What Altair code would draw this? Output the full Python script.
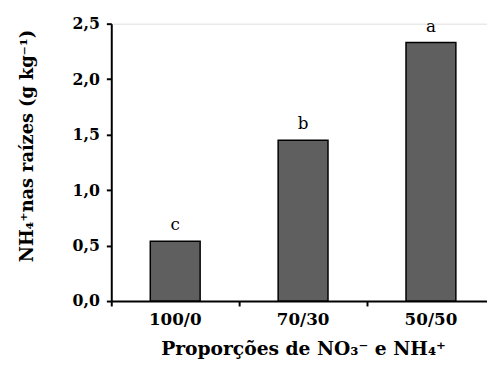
import altair as alt
import pandas as pd

categories = ["100/0", "70/30", "50/50"]
values = [0.54, 1.45, 2.33]
letters = ["c", "b", "a"]
y_ticks = [0.0, 0.5, 1.0, 1.5, 2.0, 2.5]

df = pd.DataFrame({"cat": categories, "val": values, "lab": letters})

FONT = "DejaVu Serif"

x_enc = alt.X(
    "cat:N",
    sort=categories,
    scale=alt.Scale(range=[0, 390], paddingInner=0, paddingOuter=0),
    axis=alt.Axis(
        title="Proporções de NO₃⁻ e NH₄⁺",
        bandPosition=0,
        labelAngle=0,
        labelFont=FONT,
        labelFontWeight="bold",
        labelFontSize=17,
        labelColor="black",
        labelPadding=6,
        tickSize=5,
        tickWidth=2,
        tickColor="black",
        domainColor="black",
        domainWidth=2,
        titleFont=FONT,
        titleFontWeight="bold",
        titleFontSize=19,
        titleColor="black",
        titleX=195,
        titleY=54,
        titleBaseline="alphabetic",
        titleAlign="center",
        grid=False,
    ),
)

y_enc = alt.Y(
    "val:Q",
    scale=alt.Scale(domain=[0, 2.5], nice=False, zero=True),
    axis=alt.Axis(
        title="NH₄⁺nas raízes (g kg⁻¹)",
        values=y_ticks,
        labelExpr="replace(format(datum.value, '.1f'), '.', ',')",
        labelFont=FONT,
        labelFontWeight="bold",
        labelFontSize=16,
        labelColor="black",
        labelPadding=7,
        tickSize=5,
        tickWidth=2,
        tickColor="black",
        domainColor="black",
        domainWidth=2,
        titleFont=FONT,
        titleFontWeight="bold",
        titleFontSize=18,
        titleColor="black",
        titleX=-80,
        titleY=124,
        titleAngle=270,
        titleBaseline="alphabetic",
        titleAlign="center",
        grid=False,
    ),
)

bars = alt.Chart(df).mark_bar(
    width=alt.RelativeBandSize(0.39),
    color="#5f5f5f",
    stroke="black",
    strokeWidth=1.5,
).encode(x=x_enc, y=y_enc)

text = alt.Chart(df).mark_text(
    font=FONT,
    fontSize=17,
    color="black",
    dy=-11,
    baseline="alphabetic",
).encode(
    x=alt.X("cat:N", sort=categories),
    y=alt.Y("val:Q"),
    text="lab:N",
)

chart = (
    alt.layer(bars, text)
    .properties(
        width=382,
        height=282,
        autosize=alt.AutoSizeParams(type="none"),
        padding={"left": 105, "top": 13, "right": 0, "bottom": 58},
    )
    .configure_view(stroke=None)
    .configure(background="white")
)

chart.save("out.html", embed_options={"renderer": "svg", "actions": False})
